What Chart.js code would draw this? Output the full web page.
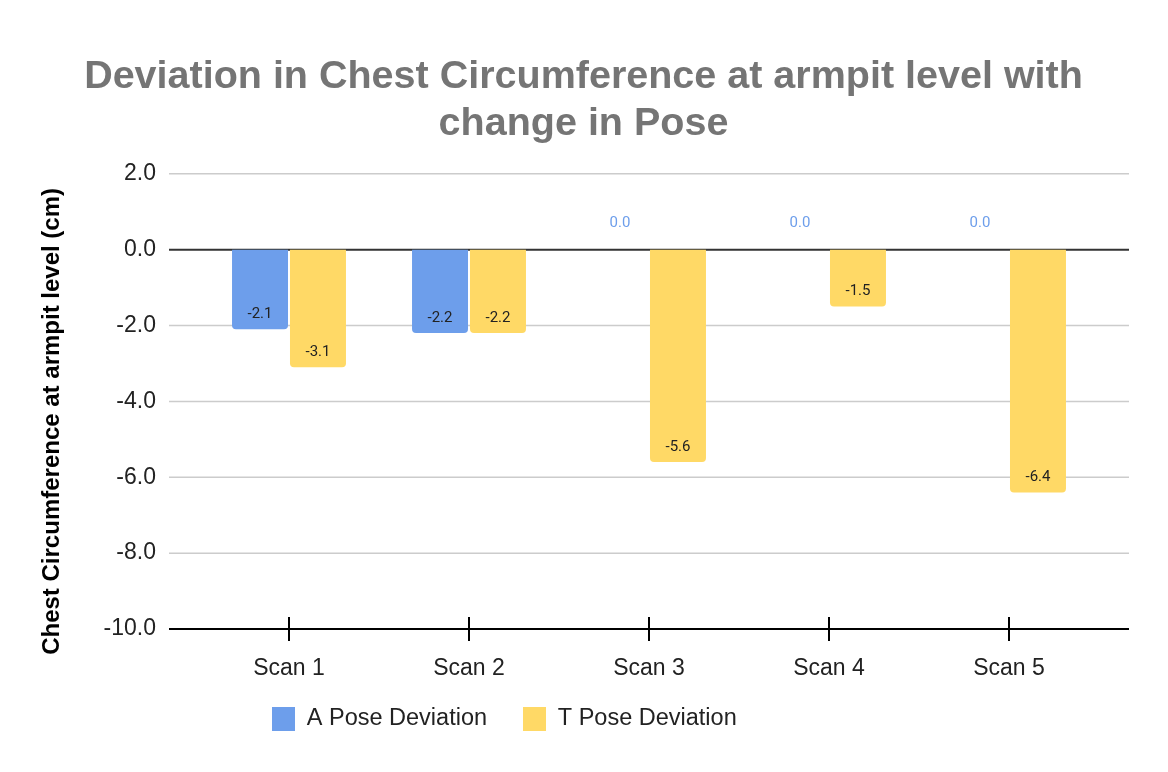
<!DOCTYPE html>
<html>
<head>
<meta charset="utf-8">
<title>Deviation in Chest Circumference</title>
<script src="https://cdn.jsdelivr.net/npm/chart.js@4.4.0/dist/chart.umd.min.js"></script>
<style>
  html, body { margin: 0; padding: 0; background: #fff; }
  #wrap { width: 1168px; height: 772px; }
</style>
</head>
<body>
<div id="wrap"><canvas id="devChart"></canvas></div>
<script>
// data
var scans = ["Scan 1", "Scan 2", "Scan 3", "Scan 4", "Scan 5"];
var aPose = [-2.1, -2.2, 0.0, 0.0, 0.0];
var tPose = [-3.1, -2.2, -5.6, -1.5, -6.4];
var yTicks = [2, 0, -2, -4, -6, -8, -10];
var yTitle = "Chest Circumference at armpit level (cm)";

var BLUE = "#6d9eeb";
var YELLOW = "#ffd966";
var FONT = "'Liberation Sans', Arial, sans-serif";

// grid lines run a bit past the category band, like the original
var gridPlugin = {
  id: "gridLines",
  beforeDatasetsDraw: function (chart) {
    var ctx = chart.ctx, area = chart.chartArea, y = chart.scales.y;
    var x0 = area.left - 30, x1 = area.right + 30;
    ctx.save();
    yTicks.forEach(function (v) {
      if (v === -10) return;
      var py = y.getPixelForValue(v);
      ctx.beginPath();
      if (v === 0) { ctx.strokeStyle = "#333333"; ctx.lineWidth = 2; }
      else { ctx.strokeStyle = "#cccccc"; ctx.lineWidth = 1.5; }
      ctx.moveTo(x0, py);
      ctx.lineTo(x1, py);
      ctx.stroke();
    });
    // y axis title, sits a little below the middle of the plot
    ctx.translate(52, (area.top + area.bottom) / 2 + 20);
    ctx.rotate(-Math.PI / 2);
    ctx.font = "bold 24px " + FONT;
    ctx.fillStyle = "#000000";
    ctx.textAlign = "center";
    ctx.textBaseline = "middle";
    ctx.fillText(yTitle, 0, 0);
    ctx.restore();
  },
  afterDatasetsDraw: function (chart) {
    var ctx = chart.ctx, area = chart.chartArea, x = chart.scales.x, y = chart.scales.y;
    var py = y.getPixelForValue(-10);
    ctx.save();
    ctx.strokeStyle = "#000000";
    ctx.lineWidth = 2;
    ctx.beginPath();
    ctx.moveTo(area.left - 30, py);
    ctx.lineTo(area.right + 30, py);
    ctx.stroke();
    for (var i = 0; i < scans.length; i++) {
      var px = x.getPixelForTick(i);
      ctx.beginPath();
      ctx.moveTo(px, py - 12);
      ctx.lineTo(px, py + 12);
      ctx.stroke();
    }
    ctx.restore();
  }
};

// value labels inside the bar ends, zero values sit above the axis
var labelPlugin = {
  id: "barLabels",
  afterDatasetsDraw: function (chart) {
    var ctx = chart.ctx;
    ctx.save();
    ctx.font = "15px Roboto, 'Noto Sans', sans-serif";
    ctx.textAlign = "center";
    ctx.textBaseline = "middle";
    chart.data.datasets.forEach(function (ds, i) {
      var meta = chart.getDatasetMeta(i);
      meta.data.forEach(function (bar, j) {
        var v = ds.data[j];
        if (v === 0) {
          ctx.fillStyle = ds.backgroundColor;
          ctx.fillText(v.toFixed(1), bar.x, bar.y - 26);
        } else {
          ctx.fillStyle = "#222222";
          ctx.fillText(v.toFixed(1), bar.x, bar.y - 15);
        }
      });
    });
    ctx.restore();
  }
};

// nudge title and legend to where the original puts them
var shiftPlugin = {
  id: "boxShift",
  afterLayout: function (chart) {
    if (chart.legend) {
      chart.legend.left = 236;
      chart.legend.top -= 14;
      chart.legend.bottom -= 14;
    }
    if (chart.titleBlock) {
      chart.titleBlock.left += 24;
      chart.titleBlock.right += 24;
    }
  }
};

new Chart(document.getElementById("devChart"), {
  type: "bar",
  data: {
    labels: scans,
    datasets: [
      {
        label: "A Pose Deviation",
        data: aPose,
        backgroundColor: BLUE,
        borderRadius: 4,
        categoryPercentage: 0.644,
        barPercentage: 0.966
      },
      {
        label: "T Pose Deviation",
        data: tPose,
        backgroundColor: YELLOW,
        borderRadius: 4,
        categoryPercentage: 0.644,
        barPercentage: 0.966
      }
    ]
  },
  plugins: [gridPlugin, labelPlugin, shiftPlugin],
  options: {
    responsive: true,
    maintainAspectRatio: false,
    devicePixelRatio: 1,
    animation: false,
    layout: { padding: { left: 20, right: 69, top: 0, bottom: 17 } },
    plugins: {
      title: {
        display: true,
        text: ["Deviation in Chest Circumference at armpit level with", "change in Pose"],
        color: "#757575",
        font: { family: FONT, size: 39.5, weight: "bold", lineHeight: 1.2 },
        padding: { top: 53, bottom: 26 }
      },
      legend: {
        position: "bottom",
        align: "start",
        labels: {
          color: "#222222",
          font: { family: FONT, size: 23.5 },
          boxWidth: 23,
          boxHeight: 24,
          padding: 36
        }
      },
      tooltip: { enabled: false }
    },
    scales: {
      x: {
        grid: { display: false },
        border: { display: false },
        ticks: {
          color: "#222222",
          font: { family: FONT, size: 23 },
          padding: 18
        },
        afterFit: function (scale) { scale.height = 56; }
      },
      y: {
        min: -10,
        max: 2,
        grid: { display: false, drawTicks: false },
        border: { display: false },
        ticks: {
          stepSize: 2,
          color: "#222222",
          font: { family: FONT, size: 23 },
          padding: 43,
          callback: function (v) { return Number(v).toFixed(1); }
        },
        afterFit: function (scale) { scale.width = 179; }
      }
    }
  }
});
</script>
</body>
</html>
